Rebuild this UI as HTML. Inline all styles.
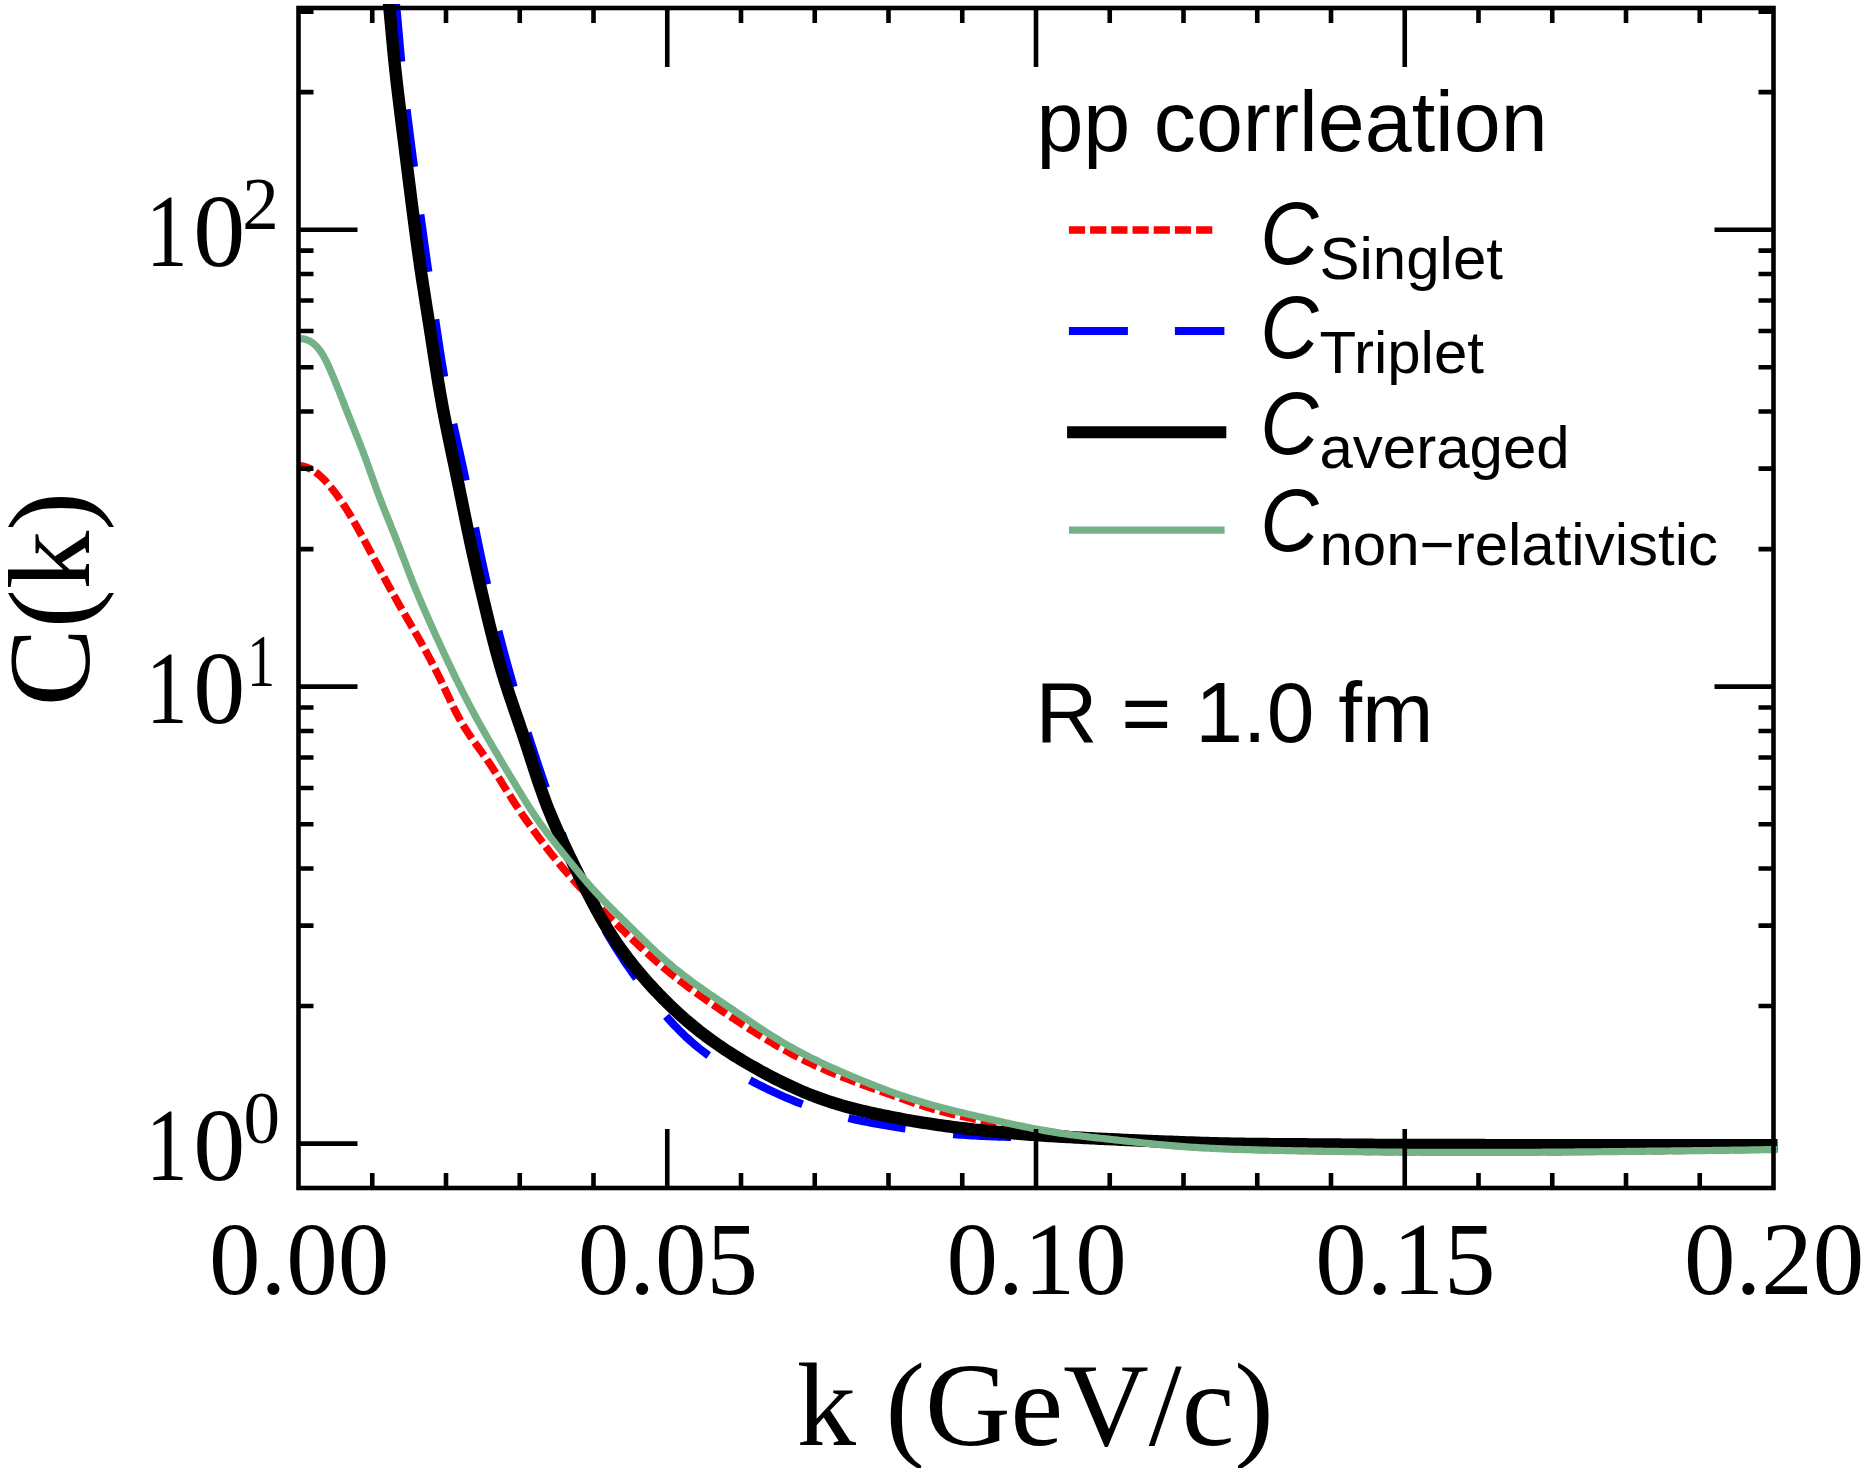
<!DOCTYPE html><html><head><meta charset="utf-8"><style>html,body{margin:0;padding:0;background:#fff;width:1861px;height:1468px;overflow:hidden}svg{display:block}</style></head><body>
<svg width="1861" height="1468" viewBox="0 0 1861 1468">
<rect width="1861" height="1468" fill="#fff"/>
<defs><clipPath id="pc"><rect x="297" y="4" width="1480.5" height="1190"/></clipPath></defs>
<g clip-path="url(#pc)" fill="none" stroke-linejoin="round">
<path d="M394.75,-8.03 L395.09,-5.05 L395.43,-2.07 L395.75,0.90 L396.06,3.88 L396.37,6.86 L396.66,9.85 L396.95,12.83 L397.23,15.81 L397.51,18.80 L397.78,21.78 L398.04,24.77 L398.30,27.75 L398.57,30.74 L398.82,33.72 L399.08,36.71 L399.34,39.70 L399.60,42.68 L399.86,45.67 L400.12,48.65 L400.39,51.64 L400.66,54.62 L400.94,57.61 L401.22,60.59 L401.51,63.58 L401.81,66.56 L402.11,69.54 L402.42,72.52 L402.74,75.50 L403.06,78.48 L403.39,81.46 L403.72,84.44 L404.06,87.42 L404.40,90.39 L404.75,93.37 L405.10,96.35 L405.46,99.32 L405.82,102.30 L406.18,105.28 L406.55,108.25 L406.91,111.23 L407.28,114.20 L407.66,117.18 L408.03,120.15 L408.41,123.12 L408.79,126.10 L409.16,129.07 L409.54,132.04 L409.92,135.02 L410.31,137.99 L410.69,140.96 L411.07,143.94 L411.45,146.91 L411.84,149.88 L412.22,152.85 L412.61,155.83 L412.99,158.80 L413.38,161.77 L413.77,164.74 L414.16,167.71 L414.55,170.68 L414.94,173.66 L415.33,176.63 L415.73,179.60 L416.12,182.57 L416.51,185.54 L416.91,188.51 L417.31,191.48 L417.71,194.45 L418.10,197.42 L418.51,200.39 L418.91,203.36 L419.31,206.33 L419.71,209.30 L420.12,212.27 L420.52,215.24 L420.93,218.21 L421.34,221.18 L421.75,224.15 L422.16,227.12 L422.57,230.09 L422.98,233.06 L423.39,236.03 L423.80,239.00 L424.22,241.97 L424.63,244.94 L425.05,247.90 L425.46,250.87 L425.88,253.84 L426.30,256.81 L426.72,259.78 L427.14,262.75 L427.56,265.71 L427.98,268.68 L428.40,271.65 L428.82,274.62 L429.24,277.58 L429.66,280.55 L430.09,283.52 L430.51,286.48 L430.94,289.45 L431.36,292.42 L431.79,295.38 L432.22,298.35 L432.65,301.32 L433.08,304.28 L433.51,307.25 L433.95,310.21 L434.38,313.18 L434.82,316.14 L435.26,319.11 L435.69,322.07 L436.13,325.04 L436.58,328.00 L437.02,330.97 L437.47,333.93 L437.91,336.90 L438.36,339.86 L438.81,342.82 L439.27,345.79 L439.72,348.75 L440.18,351.71 L440.65,354.67 L441.11,357.63 L441.59,360.60 L442.06,363.55 L442.54,366.51 L443.03,369.47 L443.52,372.43 L444.02,375.38 L444.52,378.34 L445.03,381.29 L445.55,384.24 L446.08,387.19 L446.61,390.14 L447.15,393.09 L447.70,396.04 L448.26,398.98 L448.82,401.92 L449.40,404.86 L449.99,407.80 L450.58,410.74 L451.19,413.67 L451.80,416.61 L452.42,419.54 L453.04,422.47 L453.68,425.40 L454.31,428.33 L454.95,431.25 L455.60,434.18 L456.25,437.11 L456.90,440.03 L457.55,442.96 L458.20,445.88 L458.86,448.81 L459.51,451.73 L460.16,454.66 L460.81,457.59 L461.46,460.51 L462.10,463.44 L462.74,466.37 L463.38,469.30 L464.01,472.23 L464.63,475.16 L465.25,478.09 L465.86,481.03 L466.46,483.96 L467.07,486.90 L467.66,489.84 L468.25,492.78 L468.84,495.72 L469.43,498.66 L470.01,501.60 L470.59,504.54 L471.17,507.48 L471.75,510.42 L472.33,513.36 L472.91,516.30 L473.49,519.24 L474.07,522.18 L474.65,525.13 L475.23,528.07 L475.82,531.01 L476.41,533.94 L477.00,536.88 L477.59,539.82 L478.19,542.76 L478.80,545.69 L479.41,548.63 L480.02,551.56 L480.64,554.49 L481.26,557.42 L481.89,560.35 L482.52,563.28 L483.16,566.21 L483.80,569.14 L484.44,572.06 L485.09,574.99 L485.75,577.91 L486.41,580.84 L487.07,583.76 L487.74,586.68 L488.42,589.60 L489.09,592.52 L489.78,595.44 L490.46,598.36 L491.16,601.27 L491.85,604.19 L492.55,607.10 L493.26,610.01 L493.97,612.93 L494.69,615.84 L495.41,618.75 L496.13,621.66 L496.86,624.57 L497.59,627.47 L498.33,630.38 L499.07,633.28 L499.82,636.19 L500.57,639.09 L501.33,641.99 L502.09,644.89 L502.86,647.79 L503.63,650.69 L504.41,653.58 L505.19,656.48 L505.98,659.37 L506.77,662.26 L507.56,665.15 L508.36,668.04 L509.17,670.93 L509.98,673.81 L510.79,676.70 L511.61,679.58 L512.44,682.46 L513.27,685.34 L514.10,688.22 L514.94,691.09 L515.79,693.97 L516.63,696.84 L517.49,699.71 L518.35,702.58 L519.21,705.45 L520.08,708.32 L520.95,711.18 L521.82,714.05 L522.70,716.91 L523.59,719.77 L524.48,722.64 L525.37,725.50 L526.27,728.35 L527.17,731.21 L528.08,734.07 L528.99,736.92 L529.90,739.78 L530.82,742.63 L531.75,745.49 L532.67,748.34 L533.60,751.19 L534.54,754.04 L535.48,756.88 L536.42,759.73 L537.36,762.58 L538.31,765.42 L539.27,768.27 L540.22,771.11 L541.18,773.95 L542.14,776.80 L543.11,779.64 L544.07,782.47 L545.04,785.31 L546.01,788.15 L546.99,790.99 L547.97,793.82 L548.94,796.65 L549.93,799.49 L550.91,802.32 L551.89,805.15 L552.88,807.98 L553.87,810.81 L554.86,813.63 L555.85,816.46 L556.85,819.28 L557.85,822.11 L558.85,824.93 L559.86,827.75 L560.87,830.56 L561.89,833.38 L562.91,836.19 L563.94,839.00 L564.98,841.80 L566.03,844.61 L567.08,847.41 L568.14,850.21 L569.22,853.00 L570.30,855.79 L571.39,858.58 L572.50,861.36 L573.62,864.14 L574.74,866.92 L575.88,869.69 L577.04,872.46 L578.21,875.22 L579.39,877.97 L580.59,880.73 L581.80,883.47 L583.02,886.22 L584.27,888.95 L585.52,891.68 L586.79,894.40 L588.07,897.12 L589.37,899.83 L590.69,902.53 L592.02,905.23 L593.36,907.92 L594.72,910.60 L596.09,913.27 L597.48,915.93 L598.88,918.58 L600.30,921.23 L601.74,923.86 L603.18,926.49 L604.65,929.10 L606.13,931.71 L607.62,934.31 L609.13,936.89 L610.66,939.46 L612.20,942.03 L613.76,944.58 L615.33,947.12 L616.91,949.65 L618.51,952.17 L620.13,954.69 L621.76,957.19 L623.40,959.68 L625.06,962.17 L626.74,964.64 L628.42,967.11 L630.12,969.56 L631.83,972.01 L633.56,974.46 L635.30,976.89 L637.05,979.31 L638.82,981.73 L640.60,984.14 L642.39,986.55 L644.20,988.95 L646.01,991.34 L647.84,993.72 L649.68,996.10 L651.53,998.47 L653.40,1000.83 L655.28,1003.19 L657.17,1005.53 L659.08,1007.86 L661.01,1010.18 L662.95,1012.48 L664.91,1014.77 L666.89,1017.04 L668.88,1019.29 L670.90,1021.53 L672.93,1023.74 L674.98,1025.93 L677.06,1028.10 L679.16,1030.24 L681.28,1032.36 L683.42,1034.45 L685.58,1036.52 L687.78,1038.55 L689.99,1040.56 L692.23,1042.53 L694.50,1044.47 L696.79,1046.38 L699.11,1048.25 L701.46,1050.09 L703.83,1051.90 L706.23,1053.67 L708.65,1055.42 L711.09,1057.14 L713.55,1058.83 L716.03,1060.49 L718.54,1062.12 L721.06,1063.73 L723.59,1065.32 L726.15,1066.88 L728.72,1068.42 L731.30,1069.94 L733.90,1071.44 L736.51,1072.92 L739.14,1074.39 L741.77,1075.83 L744.41,1077.26 L747.07,1078.68 L749.73,1080.08 L752.40,1081.47 L755.07,1082.84 L757.75,1084.20 L760.44,1085.56 L763.13,1086.90 L765.83,1088.22 L768.53,1089.53 L771.24,1090.83 L773.96,1092.11 L776.68,1093.37 L779.41,1094.62 L782.15,1095.84 L784.89,1097.05 L787.64,1098.24 L790.40,1099.41 L793.17,1100.56 L795.94,1101.69 L798.72,1102.80 L801.51,1103.88 L804.31,1104.94 L807.12,1105.98 L809.93,1106.99 L812.76,1107.97 L815.59,1108.93 L818.43,1109.86 L821.28,1110.77 L824.14,1111.65 L827.00,1112.50 L829.88,1113.32 L832.76,1114.13 L835.65,1114.90 L838.54,1115.66 L841.45,1116.39 L844.35,1117.11 L847.27,1117.80 L850.19,1118.47 L853.11,1119.13 L856.04,1119.77 L858.98,1120.39 L861.92,1120.99 L864.86,1121.58 L867.80,1122.16 L870.75,1122.72 L873.70,1123.27 L876.66,1123.80 L879.61,1124.33 L882.57,1124.85 L885.53,1125.35 L888.49,1125.85 L891.45,1126.34 L894.41,1126.82 L897.37,1127.29 L900.34,1127.75 L903.30,1128.21 L906.27,1128.65 L909.23,1129.08 L912.20,1129.50 L915.17,1129.92 L918.14,1130.32 L921.11,1130.71 L924.08,1131.09 L927.05,1131.45 L930.03,1131.81 L933.00,1132.15 L935.98,1132.49 L938.95,1132.80 L941.93,1133.11 L944.91,1133.40 L947.89,1133.69 L950.88,1133.95 L953.86,1134.21 L956.85,1134.45 L959.83,1134.67 L962.82,1134.88 L965.81,1135.09 L968.80,1135.27 L971.79,1135.45 L974.78,1135.62 L977.78,1135.78 L980.77,1135.93 L983.76,1136.07 L986.76,1136.20 L989.75,1136.33 L992.75,1136.44 L995.75,1136.56 L998.74,1136.67 L1001.74,1136.77 L1004.74,1136.87 L1007.74,1136.96 L1010.73,1137.06 L1013.73,1137.15 L1016.73,1137.24 L1019.73,1137.32 L1022.73,1137.41 L1025.72,1137.50 L1028.72,1137.59 L1031.72,1137.68 L1034.71,1137.77 L1037.71,1137.86 L1040.70,1137.96 L1043.70,1138.05 L1046.70,1138.14 L1049.69,1138.24 L1052.69,1138.33 L1055.68,1138.43 L1058.68,1138.52 L1061.67,1138.62 L1064.67,1138.72 L1067.66,1138.81 L1070.66,1138.91 L1073.65,1139.01 L1076.65,1139.11 L1079.64,1139.20 L1082.63,1139.30 L1085.63,1139.40 L1088.62,1139.50 L1091.62,1139.60 L1094.62,1139.69 L1097.61,1139.79 L1100.61,1139.89 L1103.60,1139.99 L1106.60,1140.09 L1109.59,1140.18 L1112.59,1140.28 L1115.58,1140.38 L1118.58,1140.48 L1121.58,1140.57 L1124.57,1140.67 L1127.57,1140.76 L1130.57,1140.86 L1133.56,1140.95 L1136.56,1141.05 L1139.55,1141.14 L1142.55,1141.24 L1145.55,1141.33 L1148.54,1141.42 L1151.54,1141.51 L1154.54,1141.60 L1157.53,1141.69 L1160.53,1141.78 L1163.53,1141.87 L1166.52,1141.95 L1169.52,1142.04 L1172.51,1142.13 L1175.51,1142.21 L1178.51,1142.29 L1181.50,1142.37 L1184.50,1142.45 L1187.49,1142.53 L1190.49,1142.61 L1193.49,1142.69 L1196.48,1142.76 L1199.48,1142.83 L1202.47,1142.90 L1205.47,1142.97 L1208.47,1143.04 L1211.46,1143.11 L1214.46,1143.17 L1217.46,1143.23 L1220.45,1143.29 L1223.45,1143.35 L1226.45,1143.41 L1229.44,1143.46 L1232.44,1143.51 L1235.44,1143.56 L1238.43,1143.61 L1241.43,1143.65 L1244.43,1143.69 L1247.42,1143.73 L1250.42,1143.77 L1253.42,1143.81 L1256.41,1143.84 L1259.41,1143.88 L1262.41,1143.91 L1265.41,1143.94 L1268.40,1143.97 L1271.40,1144.00 L1274.40,1144.03 L1277.40,1144.05 L1280.39,1144.08 L1283.39,1144.11 L1286.39,1144.13 L1289.39,1144.16 L1292.38,1144.18 L1295.38,1144.21 L1298.38,1144.23 L1301.38,1144.26 L1304.37,1144.28 L1307.37,1144.31 L1310.37,1144.33 L1313.36,1144.36 L1316.36,1144.38 L1319.36,1144.41 L1322.36,1144.43 L1325.35,1144.46 L1328.35,1144.49 L1331.35,1144.51 L1334.34,1144.54 L1337.34,1144.56 L1340.34,1144.58 L1343.34,1144.61 L1346.33,1144.63 L1349.33,1144.65 L1352.33,1144.68 L1355.32,1144.70 L1358.32,1144.72 L1361.32,1144.74 L1364.32,1144.76 L1367.31,1144.78 L1370.31,1144.79 L1373.31,1144.81 L1376.30,1144.82 L1379.30,1144.84 L1382.30,1144.85 L1385.30,1144.86 L1388.29,1144.88 L1391.29,1144.89 L1394.29,1144.90 L1397.29,1144.90 L1400.28,1144.91 L1403.28,1144.92 L1406.28,1144.93 L1409.27,1144.94 L1412.27,1144.94 L1415.27,1144.95 L1418.27,1144.95 L1421.26,1144.96 L1424.26,1144.97 L1427.26,1144.97 L1430.26,1144.98 L1433.25,1144.98 L1436.25,1144.99 L1439.25,1144.99 L1442.25,1145.00 L1445.24,1145.00 L1448.24,1145.01 L1451.24,1145.01 L1454.23,1145.02 L1457.23,1145.02 L1460.23,1145.03 L1463.23,1145.04 L1466.22,1145.04 L1469.22,1145.05 L1472.22,1145.05 L1475.22,1145.06 L1478.21,1145.06 L1481.21,1145.07 L1484.21,1145.08 L1487.20,1145.08 L1490.20,1145.09 L1493.20,1145.09 L1496.20,1145.10 L1499.19,1145.10 L1502.19,1145.11 L1505.19,1145.11 L1508.19,1145.12 L1511.18,1145.12 L1514.18,1145.13 L1517.18,1145.13 L1520.18,1145.13 L1523.17,1145.14 L1526.17,1145.14 L1529.17,1145.14 L1532.16,1145.15 L1535.16,1145.15 L1538.16,1145.15 L1541.16,1145.16 L1544.15,1145.16 L1547.15,1145.16 L1550.15,1145.16 L1553.15,1145.17 L1556.14,1145.17 L1559.14,1145.17 L1562.14,1145.17 L1565.13,1145.17 L1568.13,1145.18 L1571.13,1145.18 L1574.13,1145.18 L1577.12,1145.18 L1580.12,1145.18 L1583.12,1145.18 L1586.12,1145.18 L1589.11,1145.18 L1592.11,1145.19 L1595.11,1145.19 L1598.11,1145.19 L1601.10,1145.19 L1604.10,1145.19 L1607.10,1145.19 L1610.09,1145.19 L1613.09,1145.19 L1616.09,1145.19 L1619.09,1145.19 L1622.08,1145.19 L1625.08,1145.20 L1628.08,1145.20 L1631.08,1145.20 L1634.07,1145.20 L1637.07,1145.20 L1640.07,1145.20 L1643.06,1145.20 L1646.06,1145.20 L1649.06,1145.20 L1652.06,1145.20 L1655.05,1145.20 L1658.05,1145.20 L1661.05,1145.20 L1664.05,1145.20 L1667.04,1145.20 L1670.04,1145.20 L1673.04,1145.20 L1676.04,1145.20 L1679.03,1145.20 L1682.03,1145.20 L1685.03,1145.20 L1688.02,1145.20 L1691.02,1145.21 L1694.02,1145.21 L1697.02,1145.21 L1700.01,1145.21 L1703.01,1145.21 L1706.01,1145.21 L1709.01,1145.21 L1712.00,1145.21 L1715.00,1145.21 L1718.00,1145.21 L1720.99,1145.20 L1723.99,1145.20 L1726.99,1145.20 L1729.99,1145.20 L1732.98,1145.20 L1735.98,1145.20 L1738.98,1145.20 L1741.98,1145.20 L1744.97,1145.20 L1747.97,1145.20 L1750.97,1145.20 L1753.97,1145.20 L1756.96,1145.20 L1759.96,1145.20 L1762.96,1145.20 L1765.95,1145.20 L1768.95,1145.20 L1771.95,1145.20 L1774.95,1145.20 L1777.94,1145.20 L1780.94,1145.20 L1783.94,1145.20 L1786.94,1145.20 L1789.93,1145.20" stroke="#0000ff" stroke-width="8" stroke-dasharray="58 48" stroke-dashoffset="94"/>
<path d="M263.01,493.32 L263.94,491.11 L265.16,488.82 L266.63,486.48 L268.35,484.12 L270.28,481.77 L272.40,479.47 L274.68,477.24 L277.11,475.12 L279.66,473.13 L282.31,471.32 L285.03,469.71 L287.80,468.34 L290.60,467.23 L293.40,466.43 L296.18,465.95 L298.92,465.82 L301.62,466.03 L304.27,466.56 L306.87,467.38 L309.42,468.46 L311.93,469.78 L314.38,471.33 L316.78,473.06 L319.12,474.97 L321.41,477.03 L323.65,479.20 L325.82,481.48 L327.93,483.83 L329.99,486.23 L331.98,488.65 L333.90,491.09 L335.77,493.53 L337.58,495.97 L339.34,498.42 L341.05,500.87 L342.72,503.33 L344.35,505.80 L345.94,508.28 L347.50,510.77 L349.03,513.27 L350.54,515.79 L352.03,518.32 L353.50,520.86 L354.96,523.42 L356.41,525.99 L357.86,528.58 L359.30,531.19 L360.75,533.81 L362.18,536.44 L363.62,539.08 L365.05,541.74 L366.48,544.40 L367.91,547.06 L369.33,549.73 L370.76,552.41 L372.18,555.08 L373.60,557.75 L375.01,560.42 L376.43,563.09 L377.84,565.75 L379.26,568.40 L380.67,571.05 L382.09,573.69 L383.50,576.33 L384.92,578.95 L386.34,581.58 L387.76,584.20 L389.19,586.81 L390.62,589.42 L392.06,592.03 L393.51,594.64 L394.96,597.24 L396.42,599.84 L397.88,602.44 L399.36,605.03 L400.84,607.63 L402.34,610.23 L403.84,612.82 L405.34,615.42 L406.85,618.01 L408.37,620.61 L409.88,623.21 L411.39,625.81 L412.91,628.41 L414.41,631.01 L415.92,633.61 L417.42,636.22 L418.91,638.83 L420.39,641.44 L421.86,644.05 L423.32,646.67 L424.77,649.30 L426.20,651.92 L427.63,654.56 L429.04,657.19 L430.44,659.83 L431.83,662.48 L433.20,665.13 L434.57,667.79 L435.92,670.46 L437.26,673.13 L438.59,675.82 L439.90,678.50 L441.21,681.20 L442.50,683.90 L443.78,686.62 L445.05,689.34 L446.32,692.06 L447.59,694.79 L448.86,697.51 L450.13,700.23 L451.42,702.94 L452.72,705.65 L454.05,708.35 L455.39,711.03 L456.76,713.70 L458.15,716.35 L459.59,718.98 L461.06,721.59 L462.57,724.17 L464.12,726.72 L465.71,729.26 L467.34,731.76 L469.00,734.26 L470.69,736.73 L472.40,739.19 L474.13,741.64 L475.87,744.09 L477.61,746.52 L479.36,748.96 L481.11,751.40 L482.86,753.84 L484.59,756.28 L486.31,758.74 L488.01,761.21 L489.69,763.69 L491.35,766.18 L492.99,768.69 L494.61,771.21 L496.22,773.73 L497.81,776.26 L499.40,778.80 L500.98,781.34 L502.56,783.89 L504.14,786.43 L505.72,788.97 L507.30,791.51 L508.89,794.05 L510.49,796.58 L512.10,799.10 L513.72,801.62 L515.36,804.12 L517.01,806.62 L518.67,809.11 L520.35,811.59 L522.03,814.06 L523.73,816.53 L525.44,818.99 L527.17,821.44 L528.90,823.88 L530.64,826.32 L532.39,828.75 L534.15,831.18 L535.92,833.60 L537.70,836.01 L539.48,838.42 L541.27,840.83 L543.08,843.22 L544.89,845.61 L546.71,847.99 L548.54,850.37 L550.39,852.73 L552.24,855.09 L554.11,857.43 L555.99,859.77 L557.89,862.09 L559.79,864.40 L561.72,866.70 L563.65,868.99 L565.60,871.26 L567.57,873.52 L569.56,875.76 L571.55,877.99 L573.56,880.21 L575.59,882.42 L577.62,884.62 L579.67,886.81 L581.73,888.98 L583.80,891.15 L585.87,893.31 L587.95,895.47 L590.04,897.62 L592.14,899.76 L594.24,901.89 L596.35,904.03 L598.46,906.15 L600.57,908.28 L602.69,910.40 L604.81,912.51 L606.94,914.63 L609.07,916.74 L611.20,918.84 L613.34,920.94 L615.48,923.04 L617.62,925.13 L619.77,927.23 L621.92,929.31 L624.07,931.40 L626.23,933.48 L628.39,935.56 L630.55,937.63 L632.72,939.70 L634.89,941.77 L637.07,943.82 L639.25,945.88 L641.44,947.92 L643.64,949.96 L645.84,951.99 L648.06,954.01 L650.28,956.02 L652.51,958.02 L654.75,960.00 L657.01,961.98 L659.27,963.94 L661.55,965.88 L663.84,967.82 L666.15,969.73 L668.46,971.63 L670.79,973.52 L673.13,975.40 L675.47,977.26 L677.83,979.10 L680.20,980.94 L682.58,982.76 L684.97,984.58 L687.37,986.38 L689.77,988.17 L692.19,989.94 L694.61,991.71 L697.04,993.47 L699.47,995.22 L701.91,996.96 L704.36,998.69 L706.81,1000.41 L709.27,1002.12 L711.73,1003.83 L714.20,1005.53 L716.67,1007.22 L719.15,1008.90 L721.63,1010.58 L724.12,1012.25 L726.61,1013.92 L729.10,1015.58 L731.60,1017.24 L734.10,1018.89 L736.60,1020.54 L739.11,1022.18 L741.62,1023.82 L744.13,1025.45 L746.65,1027.07 L749.17,1028.69 L751.70,1030.30 L754.23,1031.91 L756.77,1033.50 L759.31,1035.09 L761.86,1036.66 L764.42,1038.22 L766.98,1039.78 L769.55,1041.32 L772.13,1042.84 L774.72,1044.36 L777.31,1045.86 L779.91,1047.35 L782.52,1048.82 L785.14,1050.28 L787.77,1051.72 L790.40,1053.15 L793.05,1054.56 L795.70,1055.95 L798.36,1057.33 L801.03,1058.68 L803.72,1060.02 L806.40,1061.34 L809.10,1062.65 L811.81,1063.93 L814.53,1065.19 L817.26,1066.43 L819.99,1067.65 L822.73,1068.86 L825.49,1070.04 L828.24,1071.22 L831.01,1072.37 L833.78,1073.51 L836.56,1074.64 L839.34,1075.76 L842.13,1076.86 L844.92,1077.95 L847.72,1079.03 L850.52,1080.11 L853.32,1081.17 L856.12,1082.23 L858.93,1083.28 L861.74,1084.32 L864.55,1085.35 L867.36,1086.39 L870.18,1087.41 L872.99,1088.43 L875.81,1089.45 L878.63,1090.46 L881.45,1091.47 L884.28,1092.47 L887.10,1093.47 L889.92,1094.48 L892.75,1095.47 L895.57,1096.47 L898.40,1097.47 L901.23,1098.46 L904.06,1099.46 L906.89,1100.44 L909.72,1101.42 L912.56,1102.39 L915.40,1103.35 L918.24,1104.30 L921.09,1105.23 L923.94,1106.15 L926.80,1107.05 L929.66,1107.94 L932.53,1108.80 L935.41,1109.64 L938.29,1110.46 L941.17,1111.25 L944.07,1112.02 L946.97,1112.77 L949.88,1113.50 L952.79,1114.20 L955.71,1114.89 L958.63,1115.56 L961.55,1116.21 L964.48,1116.85 L967.41,1117.47 L970.35,1118.09 L973.29,1118.68 L976.23,1119.27 L979.17,1119.85 L982.11,1120.43 L985.06,1120.99 L988.00,1121.55 L990.95,1122.10 L993.89,1122.65 L996.84,1123.19 L999.79,1123.72 L1002.74,1124.25 L1005.69,1124.77 L1008.64,1125.29 L1011.59,1125.80 L1014.54,1126.31 L1017.50,1126.81 L1020.45,1127.31 L1023.41,1127.80 L1026.36,1128.29 L1029.32,1128.77 L1032.28,1129.25 L1035.24,1129.73 L1038.20,1130.20 L1041.16,1130.66 L1044.12,1131.12 L1047.08,1131.57 L1050.05,1132.02 L1053.01,1132.45 L1055.98,1132.88 L1058.95,1133.30 L1061.92,1133.71 L1064.89,1134.11 L1067.86,1134.50 L1070.83,1134.88 L1073.80,1135.25 L1076.78,1135.61 L1079.75,1135.95 L1082.73,1136.30 L1085.71,1136.63 L1088.69,1136.96 L1091.67,1137.28 L1094.65,1137.59 L1097.63,1137.91 L1100.61,1138.21 L1103.59,1138.52 L1106.57,1138.82 L1109.55,1139.13 L1112.53,1139.43 L1115.51,1139.74 L1118.49,1140.04 L1121.48,1140.35 L1124.46,1140.66 L1127.44,1140.97 L1130.42,1141.28 L1133.40,1141.59 L1136.38,1141.89 L1139.36,1142.20 L1142.34,1142.50 L1145.33,1142.79 L1148.31,1143.09 L1151.29,1143.38 L1154.27,1143.66 L1157.26,1143.94 L1160.24,1144.22 L1163.23,1144.48 L1166.21,1144.74 L1169.20,1145.00 L1172.18,1145.25 L1175.17,1145.49 L1178.16,1145.72 L1181.15,1145.94 L1184.14,1146.16 L1187.13,1146.37 L1190.12,1146.58 L1193.11,1146.77 L1196.10,1146.96 L1199.09,1147.14 L1202.08,1147.32 L1205.07,1147.48 L1208.06,1147.64 L1211.06,1147.79 L1214.05,1147.93 L1217.04,1148.07 L1220.04,1148.20 L1223.03,1148.32 L1226.03,1148.44 L1229.02,1148.55 L1232.02,1148.65 L1235.01,1148.76 L1238.01,1148.85 L1241.00,1148.95 L1244.00,1149.04 L1246.99,1149.12 L1249.99,1149.21 L1252.98,1149.29 L1255.98,1149.37 L1258.98,1149.45 L1261.97,1149.52 L1264.97,1149.59 L1267.96,1149.67 L1270.96,1149.73 L1273.96,1149.80 L1276.95,1149.87 L1279.95,1149.93 L1282.94,1149.99 L1285.94,1150.05 L1288.94,1150.11 L1291.93,1150.17 L1294.93,1150.23 L1297.92,1150.29 L1300.92,1150.34 L1303.92,1150.39 L1306.91,1150.45 L1309.91,1150.50 L1312.90,1150.55 L1315.90,1150.60 L1318.90,1150.65 L1321.89,1150.70 L1324.89,1150.75 L1327.89,1150.80 L1330.88,1150.84 L1333.88,1150.89 L1336.88,1150.94 L1339.87,1150.98 L1342.87,1151.03 L1345.87,1151.07 L1348.86,1151.11 L1351.86,1151.15 L1354.85,1151.20 L1357.85,1151.24 L1360.85,1151.28 L1363.84,1151.32 L1366.84,1151.35 L1369.84,1151.39 L1372.83,1151.42 L1375.83,1151.46 L1378.83,1151.49 L1381.82,1151.52 L1384.82,1151.55 L1387.82,1151.58 L1390.81,1151.60 L1393.81,1151.63 L1396.81,1151.65 L1399.80,1151.67 L1402.80,1151.69 L1405.80,1151.71 L1408.79,1151.73 L1411.79,1151.75 L1414.79,1151.76 L1417.78,1151.78 L1420.78,1151.79 L1423.78,1151.80 L1426.77,1151.81 L1429.77,1151.83 L1432.77,1151.84 L1435.76,1151.85 L1438.76,1151.85 L1441.76,1151.86 L1444.75,1151.87 L1447.75,1151.88 L1450.75,1151.89 L1453.74,1151.89 L1456.74,1151.90 L1459.74,1151.90 L1462.73,1151.90 L1465.73,1151.91 L1468.73,1151.91 L1471.72,1151.91 L1474.72,1151.91 L1477.72,1151.92 L1480.71,1151.92 L1483.71,1151.92 L1486.71,1151.91 L1489.71,1151.91 L1492.70,1151.91 L1495.70,1151.91 L1498.70,1151.90 L1501.69,1151.90 L1504.69,1151.89 L1507.69,1151.88 L1510.68,1151.88 L1513.68,1151.87 L1516.68,1151.86 L1519.67,1151.85 L1522.67,1151.83 L1525.67,1151.82 L1528.66,1151.81 L1531.66,1151.79 L1534.66,1151.78 L1537.65,1151.76 L1540.65,1151.74 L1543.65,1151.72 L1546.64,1151.70 L1549.64,1151.68 L1552.64,1151.66 L1555.63,1151.64 L1558.63,1151.61 L1561.63,1151.59 L1564.62,1151.56 L1567.62,1151.54 L1570.62,1151.51 L1573.61,1151.49 L1576.61,1151.46 L1579.61,1151.43 L1582.60,1151.40 L1585.60,1151.37 L1588.60,1151.34 L1591.59,1151.31 L1594.59,1151.28 L1597.59,1151.25 L1600.58,1151.22 L1603.58,1151.19 L1606.58,1151.16 L1609.57,1151.13 L1612.57,1151.10 L1615.57,1151.07 L1618.56,1151.04 L1621.56,1151.00 L1624.55,1150.97 L1627.55,1150.94 L1630.55,1150.91 L1633.54,1150.88 L1636.54,1150.85 L1639.54,1150.81 L1642.53,1150.78 L1645.53,1150.75 L1648.53,1150.72 L1651.52,1150.68 L1654.52,1150.65 L1657.52,1150.62 L1660.51,1150.59 L1663.51,1150.55 L1666.51,1150.52 L1669.50,1150.48 L1672.50,1150.45 L1675.50,1150.42 L1678.49,1150.38 L1681.49,1150.35 L1684.49,1150.31 L1687.48,1150.27 L1690.48,1150.24 L1693.48,1150.20 L1696.47,1150.16 L1699.47,1150.13 L1702.47,1150.09 L1705.46,1150.05 L1708.46,1150.01 L1711.45,1149.97 L1714.45,1149.93 L1717.45,1149.89 L1720.44,1149.85 L1723.44,1149.81 L1726.44,1149.77 L1729.43,1149.73 L1732.43,1149.69 L1735.43,1149.65 L1738.42,1149.61 L1741.42,1149.57 L1744.42,1149.52 L1747.41,1149.48 L1750.41,1149.44 L1753.41,1149.40 L1756.40,1149.35 L1759.40,1149.31 L1762.39,1149.26 L1765.39,1149.22 L1768.39,1149.17 L1771.38,1149.12 L1774.38,1149.07 L1777.38,1149.02 L1780.37,1148.97 L1783.37,1148.92 L1786.37,1148.86 L1789.36,1148.80" stroke="#ff0000" stroke-width="7.6" stroke-dasharray="16 5" stroke-dashoffset="18.5"/>
<path d="M387.85,-8.04 L388.15,-5.06 L388.45,-2.08 L388.75,0.91 L389.04,3.89 L389.33,6.88 L389.61,9.86 L389.89,12.85 L390.17,15.83 L390.44,18.82 L390.72,21.80 L390.99,24.79 L391.26,27.77 L391.54,30.76 L391.81,33.74 L392.09,36.73 L392.36,39.72 L392.64,42.70 L392.92,45.69 L393.20,48.67 L393.49,51.65 L393.78,54.64 L394.08,57.62 L394.38,60.60 L394.69,63.59 L395.00,66.57 L395.32,69.55 L395.64,72.53 L395.97,75.51 L396.30,78.49 L396.64,81.47 L396.98,84.45 L397.33,87.43 L397.67,90.41 L398.03,93.38 L398.38,96.36 L398.74,99.34 L399.10,102.32 L399.46,105.29 L399.82,108.27 L400.19,111.25 L400.56,114.22 L400.93,117.20 L401.30,120.18 L401.67,123.15 L402.04,126.13 L402.41,129.10 L402.78,132.08 L403.15,135.05 L403.52,138.03 L403.90,141.00 L404.27,143.98 L404.64,146.95 L405.01,149.93 L405.38,152.91 L405.76,155.88 L406.13,158.86 L406.50,161.83 L406.87,164.81 L407.25,167.78 L407.62,170.75 L408.00,173.73 L408.37,176.70 L408.75,179.68 L409.12,182.65 L409.50,185.63 L409.87,188.60 L410.25,191.58 L410.62,194.55 L411.00,197.53 L411.38,200.50 L411.76,203.48 L412.14,206.45 L412.52,209.43 L412.90,212.40 L413.28,215.38 L413.67,218.35 L414.05,221.32 L414.44,224.30 L414.83,227.27 L415.22,230.24 L415.62,233.22 L416.01,236.19 L416.41,239.16 L416.81,242.13 L417.22,245.10 L417.63,248.08 L418.04,251.05 L418.45,254.02 L418.87,256.98 L419.29,259.95 L419.72,262.92 L420.15,265.89 L420.58,268.86 L421.02,271.82 L421.46,274.79 L421.91,277.75 L422.36,280.72 L422.81,283.68 L423.27,286.64 L423.73,289.61 L424.19,292.57 L424.65,295.53 L425.11,298.49 L425.58,301.46 L426.05,304.42 L426.51,307.38 L426.98,310.34 L427.45,313.30 L427.92,316.26 L428.39,319.23 L428.86,322.19 L429.32,325.15 L429.79,328.11 L430.25,331.08 L430.72,334.04 L431.18,337.00 L431.64,339.97 L432.10,342.93 L432.55,345.89 L433.01,348.86 L433.47,351.82 L433.92,354.79 L434.38,357.75 L434.84,360.71 L435.30,363.68 L435.77,366.64 L436.24,369.60 L436.71,372.56 L437.18,375.53 L437.66,378.49 L438.14,381.45 L438.63,384.40 L439.12,387.36 L439.63,390.32 L440.13,393.27 L440.65,396.23 L441.17,399.18 L441.70,402.13 L442.24,405.08 L442.78,408.03 L443.34,410.97 L443.90,413.92 L444.47,416.86 L445.05,419.80 L445.63,422.74 L446.22,425.68 L446.82,428.62 L447.42,431.56 L448.02,434.50 L448.63,437.43 L449.24,440.37 L449.85,443.31 L450.47,446.24 L451.08,449.18 L451.70,452.11 L452.32,455.05 L452.94,457.98 L453.56,460.91 L454.17,463.85 L454.79,466.78 L455.40,469.72 L456.02,472.66 L456.62,475.59 L457.23,478.53 L457.83,481.47 L458.44,484.40 L459.04,487.34 L459.64,490.28 L460.23,493.22 L460.83,496.16 L461.43,499.10 L462.03,502.03 L462.62,504.97 L463.22,507.91 L463.82,510.85 L464.42,513.79 L465.02,516.72 L465.63,519.66 L466.23,522.60 L466.84,525.53 L467.45,528.47 L468.07,531.40 L468.69,534.34 L469.31,537.27 L469.93,540.20 L470.56,543.13 L471.20,546.06 L471.84,548.99 L472.48,551.92 L473.12,554.85 L473.77,557.77 L474.43,560.70 L475.09,563.62 L475.75,566.55 L476.41,569.47 L477.08,572.40 L477.75,575.32 L478.42,578.24 L479.10,581.16 L479.78,584.08 L480.46,587.00 L481.14,589.92 L481.83,592.84 L482.52,595.76 L483.21,598.68 L483.90,601.60 L484.60,604.51 L485.29,607.43 L485.99,610.35 L486.69,613.26 L487.39,616.18 L488.10,619.09 L488.81,622.01 L489.52,624.92 L490.24,627.83 L490.96,630.74 L491.69,633.65 L492.42,636.56 L493.17,639.46 L493.91,642.36 L494.67,645.26 L495.44,648.16 L496.21,651.06 L496.99,653.95 L497.79,656.84 L498.59,659.73 L499.41,662.61 L500.23,665.49 L501.07,668.37 L501.92,671.24 L502.78,674.11 L503.66,676.97 L504.55,679.83 L505.45,682.69 L506.37,685.54 L507.29,688.39 L508.22,691.24 L509.16,694.09 L510.11,696.93 L511.07,699.77 L512.03,702.61 L512.99,705.45 L513.96,708.29 L514.93,711.13 L515.91,713.96 L516.88,716.80 L517.86,719.64 L518.83,722.47 L519.81,725.31 L520.78,728.15 L521.74,730.99 L522.71,733.83 L523.66,736.68 L524.61,739.53 L525.56,742.37 L526.49,745.23 L527.43,748.08 L528.35,750.94 L529.28,753.79 L530.20,756.65 L531.12,759.51 L532.04,762.36 L532.96,765.22 L533.89,768.07 L534.82,770.93 L535.75,773.78 L536.69,776.62 L537.64,779.47 L538.60,782.31 L539.56,785.15 L540.54,787.98 L541.53,790.81 L542.54,793.63 L543.55,796.45 L544.59,799.26 L545.64,802.06 L546.71,804.86 L547.79,807.65 L548.90,810.43 L550.03,813.20 L551.17,815.97 L552.33,818.73 L553.51,821.48 L554.70,824.23 L555.91,826.97 L557.13,829.70 L558.36,832.44 L559.61,835.16 L560.86,837.89 L562.13,840.60 L563.40,843.32 L564.69,846.03 L565.98,848.74 L567.27,851.45 L568.58,854.15 L569.89,856.85 L571.20,859.56 L572.51,862.26 L573.83,864.96 L575.15,867.66 L576.47,870.35 L577.79,873.05 L579.11,875.75 L580.43,878.45 L581.76,881.15 L583.09,883.84 L584.43,886.53 L585.77,889.21 L587.12,891.90 L588.48,894.57 L589.85,897.24 L591.23,899.91 L592.62,902.57 L594.02,905.22 L595.44,907.86 L596.87,910.49 L598.31,913.11 L599.77,915.73 L601.25,918.33 L602.75,920.92 L604.27,923.50 L605.81,926.07 L607.37,928.63 L608.95,931.17 L610.56,933.69 L612.19,936.20 L613.84,938.70 L615.51,941.19 L617.20,943.66 L618.92,946.11 L620.65,948.55 L622.41,950.98 L624.19,953.40 L625.98,955.80 L627.80,958.18 L629.63,960.55 L631.48,962.91 L633.35,965.26 L635.24,967.59 L637.15,969.91 L639.07,972.21 L641.01,974.50 L642.96,976.78 L644.93,979.04 L646.92,981.29 L648.92,983.53 L650.93,985.75 L652.96,987.96 L655.00,990.16 L657.06,992.34 L659.13,994.51 L661.22,996.66 L663.32,998.80 L665.43,1000.92 L667.57,1003.03 L669.71,1005.12 L671.87,1007.20 L674.04,1009.26 L676.23,1011.30 L678.44,1013.33 L680.66,1015.34 L682.89,1017.34 L685.14,1019.31 L687.41,1021.27 L689.69,1023.21 L691.99,1025.13 L694.30,1027.03 L696.63,1028.92 L698.98,1030.78 L701.34,1032.63 L703.71,1034.45 L706.10,1036.26 L708.51,1038.05 L710.93,1039.82 L713.37,1041.56 L715.82,1043.30 L718.28,1045.01 L720.76,1046.70 L723.25,1048.38 L725.75,1050.04 L728.26,1051.68 L730.78,1053.31 L733.32,1054.92 L735.87,1056.51 L738.42,1058.09 L740.99,1059.65 L743.56,1061.20 L746.15,1062.73 L748.74,1064.25 L751.34,1065.75 L753.95,1067.24 L756.57,1068.71 L759.19,1070.17 L761.82,1071.62 L764.45,1073.05 L767.09,1074.47 L769.74,1075.87 L772.40,1077.26 L775.06,1078.63 L777.74,1079.98 L780.41,1081.32 L783.10,1082.64 L785.79,1083.94 L788.50,1085.22 L791.21,1086.48 L793.93,1087.72 L796.66,1088.95 L799.39,1090.15 L802.14,1091.33 L804.89,1092.48 L807.66,1093.62 L810.43,1094.73 L813.22,1095.82 L816.01,1096.88 L818.82,1097.92 L821.63,1098.94 L824.46,1099.92 L827.29,1100.89 L830.14,1101.82 L832.99,1102.74 L835.85,1103.63 L838.72,1104.50 L841.60,1105.34 L844.49,1106.17 L847.39,1106.97 L850.29,1107.75 L853.19,1108.52 L856.11,1109.26 L859.02,1109.99 L861.95,1110.70 L864.87,1111.40 L867.81,1112.08 L870.74,1112.74 L873.68,1113.39 L876.62,1114.03 L879.56,1114.65 L882.50,1115.26 L885.45,1115.86 L888.40,1116.45 L891.34,1117.03 L894.29,1117.60 L897.24,1118.16 L900.18,1118.71 L903.13,1119.25 L906.08,1119.78 L909.03,1120.30 L911.98,1120.81 L914.93,1121.31 L917.88,1121.80 L920.83,1122.29 L923.79,1122.76 L926.74,1123.23 L929.70,1123.69 L932.65,1124.13 L935.61,1124.57 L938.57,1125.01 L941.53,1125.43 L944.50,1125.85 L947.46,1126.25 L950.43,1126.65 L953.40,1127.04 L956.37,1127.42 L959.34,1127.80 L962.31,1128.17 L965.29,1128.53 L968.27,1128.88 L971.25,1129.22 L974.23,1129.56 L977.21,1129.89 L980.19,1130.21 L983.18,1130.53 L986.17,1130.84 L989.15,1131.14 L992.14,1131.43 L995.13,1131.72 L998.12,1132.01 L1001.11,1132.28 L1004.10,1132.55 L1007.10,1132.82 L1010.09,1133.07 L1013.08,1133.33 L1016.07,1133.57 L1019.07,1133.81 L1022.06,1134.05 L1025.05,1134.28 L1028.04,1134.50 L1031.03,1134.72 L1034.03,1134.93 L1037.02,1135.14 L1040.01,1135.35 L1043.00,1135.55 L1045.99,1135.74 L1048.98,1135.94 L1051.97,1136.12 L1054.96,1136.31 L1057.95,1136.49 L1060.94,1136.66 L1063.93,1136.84 L1066.92,1137.01 L1069.91,1137.17 L1072.91,1137.34 L1075.90,1137.50 L1078.89,1137.66 L1081.88,1137.81 L1084.87,1137.97 L1087.86,1138.12 L1090.86,1138.27 L1093.85,1138.42 L1096.84,1138.57 L1099.84,1138.71 L1102.83,1138.86 L1105.83,1139.00 L1108.82,1139.14 L1111.82,1139.29 L1114.81,1139.43 L1117.81,1139.56 L1120.81,1139.70 L1123.80,1139.84 L1126.80,1139.97 L1129.80,1140.10 L1132.79,1140.23 L1135.79,1140.36 L1138.79,1140.49 L1141.79,1140.62 L1144.79,1140.75 L1147.78,1140.87 L1150.78,1141.00 L1153.78,1141.12 L1156.78,1141.24 L1159.77,1141.36 L1162.77,1141.48 L1165.77,1141.59 L1168.77,1141.71 L1171.76,1141.82 L1174.76,1141.93 L1177.76,1142.05 L1180.75,1142.15 L1183.75,1142.26 L1186.74,1142.37 L1189.74,1142.47 L1192.74,1142.57 L1195.73,1142.67 L1198.73,1142.76 L1201.73,1142.86 L1204.72,1142.95 L1207.72,1143.03 L1210.71,1143.12 L1213.71,1143.20 L1216.71,1143.28 L1219.70,1143.35 L1222.70,1143.42 L1225.70,1143.49 L1228.70,1143.56 L1231.69,1143.62 L1234.69,1143.67 L1237.69,1143.72 L1240.69,1143.77 L1243.68,1143.82 L1246.68,1143.86 L1249.68,1143.90 L1252.68,1143.93 L1255.68,1143.96 L1258.68,1143.99 L1261.68,1144.02 L1264.67,1144.05 L1267.67,1144.07 L1270.67,1144.09 L1273.67,1144.11 L1276.67,1144.13 L1279.67,1144.15 L1282.67,1144.17 L1285.67,1144.19 L1288.67,1144.21 L1291.67,1144.22 L1294.67,1144.24 L1297.67,1144.26 L1300.67,1144.27 L1303.66,1144.29 L1306.66,1144.31 L1309.66,1144.33 L1312.66,1144.36 L1315.66,1144.38 L1318.66,1144.40 L1321.66,1144.42 L1324.65,1144.45 L1327.65,1144.47 L1330.65,1144.50 L1333.65,1144.52 L1336.65,1144.55 L1339.65,1144.57 L1342.64,1144.60 L1345.64,1144.62 L1348.64,1144.64 L1351.64,1144.67 L1354.64,1144.69 L1357.64,1144.71 L1360.63,1144.73 L1363.63,1144.76 L1366.63,1144.77 L1369.63,1144.79 L1372.63,1144.81 L1375.62,1144.83 L1378.62,1144.84 L1381.62,1144.86 L1384.62,1144.87 L1387.62,1144.88 L1390.62,1144.89 L1393.62,1144.90 L1396.62,1144.91 L1399.61,1144.92 L1402.61,1144.93 L1405.61,1144.93 L1408.61,1144.94 L1411.61,1144.95 L1414.61,1144.95 L1417.61,1144.96 L1420.61,1144.96 L1423.60,1144.97 L1426.60,1144.97 L1429.60,1144.97 L1432.60,1144.98 L1435.60,1144.98 L1438.60,1144.99 L1441.60,1144.99 L1444.60,1145.00 L1447.60,1145.00 L1450.59,1145.01 L1453.59,1145.01 L1456.59,1145.02 L1459.59,1145.02 L1462.59,1145.03 L1465.59,1145.04 L1468.59,1145.04 L1471.58,1145.05 L1474.58,1145.05 L1477.58,1145.06 L1480.58,1145.07 L1483.58,1145.07 L1486.58,1145.08 L1489.58,1145.08 L1492.57,1145.09 L1495.57,1145.10 L1498.57,1145.10 L1501.57,1145.11 L1504.57,1145.11 L1507.57,1145.12 L1510.57,1145.12 L1513.56,1145.13 L1516.56,1145.13 L1519.56,1145.14 L1522.56,1145.14 L1525.56,1145.14 L1528.56,1145.15 L1531.56,1145.15 L1534.55,1145.15 L1537.55,1145.15 L1540.55,1145.16 L1543.55,1145.16 L1546.55,1145.16 L1549.55,1145.16 L1552.55,1145.17 L1555.55,1145.17 L1558.54,1145.17 L1561.54,1145.17 L1564.54,1145.17 L1567.54,1145.17 L1570.54,1145.18 L1573.54,1145.18 L1576.54,1145.18 L1579.53,1145.18 L1582.53,1145.18 L1585.53,1145.18 L1588.53,1145.18 L1591.53,1145.18 L1594.53,1145.19 L1597.53,1145.19 L1600.53,1145.19 L1603.52,1145.19 L1606.52,1145.19 L1609.52,1145.19 L1612.52,1145.19 L1615.52,1145.19 L1618.52,1145.19 L1621.52,1145.19 L1624.51,1145.19 L1627.51,1145.20 L1630.51,1145.20 L1633.51,1145.20 L1636.51,1145.20 L1639.51,1145.20 L1642.51,1145.20 L1645.50,1145.20 L1648.50,1145.20 L1651.50,1145.20 L1654.50,1145.20 L1657.50,1145.20 L1660.50,1145.20 L1663.50,1145.20 L1666.50,1145.20 L1669.49,1145.20 L1672.49,1145.20 L1675.49,1145.20 L1678.49,1145.20 L1681.49,1145.20 L1684.49,1145.20 L1687.49,1145.21 L1690.48,1145.21 L1693.48,1145.21 L1696.48,1145.21 L1699.48,1145.21 L1702.48,1145.21 L1705.48,1145.21 L1708.48,1145.21 L1711.48,1145.21 L1714.47,1145.20 L1717.47,1145.20 L1720.47,1145.20 L1723.47,1145.20 L1726.47,1145.20 L1729.47,1145.20 L1732.47,1145.20 L1735.46,1145.20 L1738.46,1145.20 L1741.46,1145.20 L1744.46,1145.20 L1747.46,1145.20 L1750.46,1145.20 L1753.46,1145.20 L1756.45,1145.20 L1759.45,1145.20 L1762.45,1145.20 L1765.45,1145.20 L1768.45,1145.20 L1771.45,1145.20 L1774.45,1145.20 L1777.45,1145.20 L1780.44,1145.20 L1783.44,1145.20 L1786.44,1145.20 L1789.44,1145.20" stroke="#000" stroke-width="12.4" stroke-dashoffset="0"/>
<path d="M271.17,364.27 L271.12,361.16 L271.59,358.18 L272.53,355.36 L273.89,352.69 L275.64,350.20 L277.70,347.91 L280.05,345.84 L282.63,343.99 L285.38,342.38 L288.27,341.04 L291.25,339.98 L294.25,339.21 L297.25,338.75 L300.18,338.61 L303.00,338.82 L305.67,339.38 L308.18,340.28 L310.54,341.49 L312.77,342.98 L314.86,344.73 L316.84,346.72 L318.70,348.90 L320.46,351.27 L322.12,353.80 L323.70,356.44 L325.20,359.20 L326.63,362.02 L328.00,364.90 L329.31,367.80 L330.58,370.70 L331.82,373.57 L333.02,376.41 L334.20,379.23 L335.35,382.02 L336.48,384.79 L337.59,387.54 L338.68,390.29 L339.76,393.01 L340.83,395.74 L341.90,398.45 L342.96,401.17 L344.02,403.88 L345.08,406.60 L346.15,409.33 L347.23,412.06 L348.32,414.81 L349.42,417.58 L350.52,420.35 L351.64,423.14 L352.76,425.93 L353.89,428.74 L355.02,431.55 L356.14,434.36 L357.27,437.19 L358.39,440.01 L359.50,442.84 L360.61,445.67 L361.71,448.51 L362.79,451.34 L363.86,454.17 L364.92,456.99 L365.96,459.81 L366.99,462.63 L368.01,465.45 L369.02,468.26 L370.02,471.08 L371.02,473.89 L372.02,476.69 L373.02,479.50 L374.02,482.30 L375.02,485.10 L376.03,487.90 L377.05,490.70 L378.09,493.49 L379.13,496.29 L380.19,499.08 L381.26,501.87 L382.35,504.66 L383.44,507.46 L384.55,510.25 L385.67,513.04 L386.79,515.83 L387.91,518.62 L389.04,521.41 L390.17,524.20 L391.29,526.99 L392.42,529.78 L393.54,532.57 L394.65,535.36 L395.76,538.16 L396.86,540.95 L397.94,543.75 L399.03,546.55 L400.10,549.34 L401.17,552.14 L402.23,554.94 L403.30,557.74 L404.36,560.53 L405.43,563.33 L406.49,566.13 L407.56,568.92 L408.64,571.71 L409.72,574.50 L410.81,577.29 L411.91,580.07 L413.02,582.85 L414.14,585.63 L415.28,588.41 L416.42,591.18 L417.58,593.95 L418.74,596.72 L419.91,599.48 L421.09,602.25 L422.28,605.00 L423.47,607.76 L424.67,610.51 L425.88,613.26 L427.09,616.01 L428.31,618.75 L429.53,621.49 L430.75,624.23 L431.98,626.97 L433.21,629.70 L434.45,632.43 L435.68,635.16 L436.93,637.89 L438.17,640.61 L439.42,643.34 L440.68,646.06 L441.93,648.78 L443.19,651.49 L444.46,654.21 L445.73,656.92 L447.01,659.63 L448.29,662.34 L449.57,665.05 L450.86,667.76 L452.15,670.46 L453.45,673.17 L454.76,675.87 L456.07,678.57 L457.39,681.26 L458.71,683.95 L460.04,686.64 L461.38,689.33 L462.73,692.01 L464.09,694.69 L465.45,697.36 L466.83,700.02 L468.21,702.69 L469.60,705.34 L471.00,707.99 L472.42,710.64 L473.84,713.28 L475.27,715.91 L476.71,718.54 L478.16,721.16 L479.61,723.78 L481.07,726.40 L482.54,729.01 L484.02,731.62 L485.51,734.22 L487.00,736.82 L488.49,739.42 L489.99,742.01 L491.50,744.60 L493.01,747.19 L494.53,749.77 L496.05,752.36 L497.58,754.94 L499.11,757.52 L500.64,760.10 L502.18,762.67 L503.71,765.24 L505.26,767.82 L506.80,770.39 L508.34,772.96 L509.89,775.53 L511.44,778.10 L512.98,780.66 L514.53,783.23 L516.08,785.80 L517.63,788.36 L519.19,790.93 L520.75,793.49 L522.31,796.04 L523.89,798.59 L525.47,801.14 L527.06,803.67 L528.67,806.20 L530.28,808.72 L531.92,811.23 L533.57,813.73 L535.23,816.22 L536.92,818.69 L538.63,821.15 L540.36,823.60 L542.11,826.03 L543.87,828.45 L545.66,830.86 L547.46,833.25 L549.28,835.64 L551.10,838.02 L552.95,840.39 L554.80,842.75 L556.65,845.11 L558.52,847.46 L560.39,849.81 L562.27,852.15 L564.15,854.50 L566.03,856.84 L567.90,859.18 L569.79,861.52 L571.67,863.86 L573.55,866.19 L575.45,868.52 L577.34,870.84 L579.25,873.16 L581.16,875.46 L583.09,877.76 L585.02,880.05 L586.97,882.32 L588.94,884.59 L590.92,886.83 L592.91,889.07 L594.93,891.28 L596.96,893.48 L599.01,895.66 L601.08,897.83 L603.16,899.99 L605.26,902.13 L607.36,904.26 L609.48,906.39 L611.60,908.50 L613.74,910.61 L615.87,912.72 L618.01,914.82 L620.16,916.92 L622.30,919.02 L624.44,921.12 L626.58,923.23 L628.71,925.34 L630.84,927.45 L632.97,929.56 L635.10,931.68 L637.22,933.79 L639.35,935.90 L641.49,938.01 L643.62,940.11 L645.76,942.20 L647.91,944.28 L650.07,946.36 L652.24,948.42 L654.42,950.47 L656.61,952.51 L658.82,954.53 L661.04,956.53 L663.27,958.51 L665.52,960.48 L667.79,962.43 L670.07,964.36 L672.36,966.28 L674.67,968.18 L677.00,970.06 L679.33,971.93 L681.68,973.78 L684.05,975.61 L686.42,977.43 L688.81,979.24 L691.21,981.03 L693.63,982.80 L696.05,984.56 L698.49,986.30 L700.94,988.04 L703.40,989.76 L705.86,991.47 L708.34,993.17 L710.81,994.87 L713.30,996.55 L715.78,998.24 L718.27,999.92 L720.76,1001.59 L723.26,1003.27 L725.75,1004.95 L728.24,1006.62 L730.72,1008.30 L733.21,1009.99 L735.69,1011.68 L738.16,1013.36 L740.64,1015.06 L743.11,1016.75 L745.59,1018.43 L748.06,1020.12 L750.54,1021.80 L753.03,1023.48 L755.51,1025.15 L758.00,1026.81 L760.50,1028.46 L763.01,1030.11 L765.52,1031.74 L768.04,1033.36 L770.57,1034.96 L773.12,1036.55 L775.67,1038.13 L778.23,1039.69 L780.80,1041.23 L783.39,1042.76 L785.98,1044.27 L788.58,1045.77 L791.19,1047.25 L793.81,1048.71 L796.44,1050.16 L799.08,1051.59 L801.73,1053.00 L804.38,1054.40 L807.05,1055.77 L809.72,1057.13 L812.40,1058.47 L815.09,1059.80 L817.78,1061.10 L820.49,1062.40 L823.20,1063.67 L825.92,1064.94 L828.64,1066.19 L831.37,1067.42 L834.10,1068.65 L836.84,1069.87 L839.59,1071.07 L842.34,1072.27 L845.09,1073.45 L847.84,1074.63 L850.61,1075.80 L853.37,1076.97 L856.14,1078.13 L858.91,1079.28 L861.68,1080.42 L864.46,1081.55 L867.24,1082.67 L870.02,1083.79 L872.81,1084.89 L875.61,1085.98 L878.40,1087.07 L881.21,1088.14 L884.01,1089.20 L886.82,1090.25 L889.63,1091.28 L892.45,1092.31 L895.28,1093.32 L898.10,1094.31 L900.94,1095.30 L903.77,1096.27 L906.61,1097.22 L909.46,1098.16 L912.31,1099.09 L915.16,1100.00 L918.02,1100.90 L920.89,1101.78 L923.76,1102.65 L926.63,1103.50 L929.51,1104.34 L932.39,1105.16 L935.28,1105.96 L938.17,1106.75 L941.07,1107.52 L943.97,1108.28 L946.87,1109.03 L949.78,1109.77 L952.69,1110.49 L955.60,1111.21 L958.52,1111.91 L961.44,1112.61 L964.35,1113.31 L967.28,1113.99 L970.20,1114.67 L973.12,1115.35 L976.04,1116.03 L978.96,1116.70 L981.89,1117.37 L984.81,1118.04 L987.73,1118.71 L990.65,1119.38 L993.58,1120.04 L996.50,1120.70 L999.43,1121.36 L1002.35,1122.01 L1005.28,1122.65 L1008.21,1123.29 L1011.14,1123.93 L1014.07,1124.56 L1017.00,1125.18 L1019.94,1125.79 L1022.87,1126.39 L1025.81,1126.99 L1028.75,1127.58 L1031.69,1128.16 L1034.64,1128.72 L1037.59,1129.28 L1040.54,1129.83 L1043.49,1130.37 L1046.44,1130.89 L1049.39,1131.40 L1052.35,1131.90 L1055.31,1132.39 L1058.27,1132.86 L1061.24,1133.32 L1064.20,1133.77 L1067.17,1134.20 L1070.14,1134.62 L1073.11,1135.02 L1076.08,1135.41 L1079.05,1135.79 L1082.03,1136.16 L1085.00,1136.52 L1087.98,1136.87 L1090.96,1137.21 L1093.94,1137.55 L1096.92,1137.88 L1099.90,1138.21 L1102.88,1138.54 L1105.86,1138.86 L1108.84,1139.19 L1111.82,1139.51 L1114.80,1139.83 L1117.79,1140.16 L1120.77,1140.49 L1123.75,1140.81 L1126.73,1141.14 L1129.71,1141.46 L1132.69,1141.79 L1135.67,1142.11 L1138.65,1142.43 L1141.63,1142.74 L1144.62,1143.05 L1147.60,1143.36 L1150.58,1143.66 L1153.57,1143.96 L1156.55,1144.25 L1159.54,1144.54 L1162.52,1144.82 L1165.51,1145.09 L1168.49,1145.36 L1171.48,1145.61 L1174.47,1145.87 L1177.46,1146.11 L1180.45,1146.35 L1183.44,1146.58 L1186.43,1146.80 L1189.42,1147.01 L1192.41,1147.22 L1195.40,1147.42 L1198.39,1147.61 L1201.38,1147.79 L1204.38,1147.96 L1207.37,1148.12 L1210.37,1148.27 L1213.36,1148.42 L1216.36,1148.56 L1219.35,1148.69 L1222.35,1148.82 L1225.34,1148.94 L1228.34,1149.05 L1231.34,1149.16 L1234.33,1149.26 L1237.33,1149.36 L1240.33,1149.46 L1243.33,1149.55 L1246.32,1149.64 L1249.32,1149.72 L1252.32,1149.80 L1255.32,1149.88 L1258.31,1149.96 L1261.31,1150.04 L1264.31,1150.11 L1267.31,1150.18 L1270.30,1150.25 L1273.30,1150.31 L1276.30,1150.38 L1279.30,1150.44 L1282.29,1150.50 L1285.29,1150.56 L1288.29,1150.62 L1291.29,1150.68 L1294.28,1150.73 L1297.28,1150.79 L1300.28,1150.84 L1303.28,1150.90 L1306.28,1150.95 L1309.27,1151.00 L1312.27,1151.05 L1315.27,1151.10 L1318.27,1151.15 L1321.27,1151.19 L1324.27,1151.24 L1327.26,1151.29 L1330.26,1151.33 L1333.26,1151.38 L1336.26,1151.42 L1339.26,1151.47 L1342.25,1151.51 L1345.25,1151.56 L1348.25,1151.60 L1351.25,1151.65 L1354.25,1151.69 L1357.24,1151.73 L1360.24,1151.77 L1363.24,1151.81 L1366.24,1151.85 L1369.24,1151.88 L1372.24,1151.92 L1375.23,1151.95 L1378.23,1151.99 L1381.23,1152.02 L1384.23,1152.05 L1387.23,1152.07 L1390.23,1152.10 L1393.22,1152.12 L1396.22,1152.15 L1399.22,1152.17 L1402.22,1152.19 L1405.22,1152.21 L1408.22,1152.23 L1411.21,1152.24 L1414.21,1152.26 L1417.21,1152.27 L1420.21,1152.29 L1423.21,1152.30 L1426.21,1152.31 L1429.20,1152.32 L1432.20,1152.33 L1435.20,1152.34 L1438.20,1152.35 L1441.20,1152.36 L1444.20,1152.37 L1447.20,1152.38 L1450.19,1152.38 L1453.19,1152.39 L1456.19,1152.40 L1459.19,1152.40 L1462.19,1152.40 L1465.19,1152.41 L1468.18,1152.41 L1471.18,1152.41 L1474.18,1152.41 L1477.18,1152.42 L1480.18,1152.42 L1483.18,1152.42 L1486.18,1152.42 L1489.17,1152.41 L1492.17,1152.41 L1495.17,1152.41 L1498.17,1152.40 L1501.17,1152.40 L1504.17,1152.39 L1507.16,1152.39 L1510.16,1152.38 L1513.16,1152.37 L1516.16,1152.36 L1519.16,1152.35 L1522.16,1152.34 L1525.16,1152.32 L1528.15,1152.31 L1531.15,1152.29 L1534.15,1152.28 L1537.15,1152.26 L1540.15,1152.24 L1543.15,1152.22 L1546.14,1152.21 L1549.14,1152.18 L1552.14,1152.16 L1555.14,1152.14 L1558.14,1152.12 L1561.14,1152.09 L1564.13,1152.07 L1567.13,1152.04 L1570.13,1152.02 L1573.13,1151.99 L1576.13,1151.96 L1579.13,1151.93 L1582.12,1151.91 L1585.12,1151.88 L1588.12,1151.85 L1591.12,1151.82 L1594.12,1151.79 L1597.12,1151.76 L1600.11,1151.73 L1603.11,1151.70 L1606.11,1151.66 L1609.11,1151.63 L1612.11,1151.60 L1615.11,1151.57 L1618.10,1151.54 L1621.10,1151.51 L1624.10,1151.48 L1627.10,1151.45 L1630.10,1151.41 L1633.10,1151.38 L1636.09,1151.35 L1639.09,1151.32 L1642.09,1151.29 L1645.09,1151.25 L1648.09,1151.22 L1651.08,1151.19 L1654.08,1151.16 L1657.08,1151.12 L1660.08,1151.09 L1663.08,1151.06 L1666.08,1151.02 L1669.07,1150.99 L1672.07,1150.95 L1675.07,1150.92 L1678.07,1150.89 L1681.07,1150.85 L1684.07,1150.81 L1687.06,1150.78 L1690.06,1150.74 L1693.06,1150.71 L1696.06,1150.67 L1699.06,1150.63 L1702.06,1150.59 L1705.05,1150.56 L1708.05,1150.52 L1711.05,1150.48 L1714.05,1150.44 L1717.05,1150.40 L1720.04,1150.36 L1723.04,1150.32 L1726.04,1150.28 L1729.04,1150.24 L1732.04,1150.20 L1735.04,1150.15 L1738.03,1150.11 L1741.03,1150.07 L1744.03,1150.03 L1747.03,1149.99 L1750.03,1149.94 L1753.02,1149.90 L1756.02,1149.86 L1759.02,1149.81 L1762.02,1149.77 L1765.02,1149.72 L1768.01,1149.68 L1771.01,1149.63 L1774.01,1149.58 L1777.01,1149.53 L1780.01,1149.48 L1783.01,1149.42 L1786.00,1149.37 L1789.00,1149.31" stroke="#74b187" stroke-width="7.2" stroke-dashoffset="0"/>
</g>
<g stroke="#000" stroke-width="4.6" fill="none" stroke-linecap="butt">
<rect x="298.50" y="8.00" width="1475.00" height="1180.00" stroke-linejoin="miter"/>
<path d="M372.25,1188.00 V1173.00 M372.25,8.00 V23.00"/>
<path d="M446.00,1188.00 V1173.00 M446.00,8.00 V23.00"/>
<path d="M519.75,1188.00 V1173.00 M519.75,8.00 V23.00"/>
<path d="M593.50,1188.00 V1173.00 M593.50,8.00 V23.00"/>
<path d="M667.25,1188.00 V1129.00 M667.25,8.00 V67.00"/>
<path d="M741.00,1188.00 V1173.00 M741.00,8.00 V23.00"/>
<path d="M814.75,1188.00 V1173.00 M814.75,8.00 V23.00"/>
<path d="M888.50,1188.00 V1173.00 M888.50,8.00 V23.00"/>
<path d="M962.25,1188.00 V1173.00 M962.25,8.00 V23.00"/>
<path d="M1036.00,1188.00 V1129.00 M1036.00,8.00 V67.00"/>
<path d="M1109.75,1188.00 V1173.00 M1109.75,8.00 V23.00"/>
<path d="M1183.50,1188.00 V1173.00 M1183.50,8.00 V23.00"/>
<path d="M1257.25,1188.00 V1173.00 M1257.25,8.00 V23.00"/>
<path d="M1331.00,1188.00 V1173.00 M1331.00,8.00 V23.00"/>
<path d="M1404.75,1188.00 V1129.00 M1404.75,8.00 V67.00"/>
<path d="M1478.50,1188.00 V1173.00 M1478.50,8.00 V23.00"/>
<path d="M1552.25,1188.00 V1173.00 M1552.25,8.00 V23.00"/>
<path d="M1626.00,1188.00 V1173.00 M1626.00,8.00 V23.00"/>
<path d="M1699.75,1188.00 V1173.00 M1699.75,8.00 V23.00"/>
<path d="M298.50,1143.60 H357.50 M1773.50,1143.60 H1714.50"/>
<path d="M298.50,1006.04 H313.50 M1773.50,1006.04 H1758.50"/>
<path d="M298.50,925.58 H313.50 M1773.50,925.58 H1758.50"/>
<path d="M298.50,868.49 H313.50 M1773.50,868.49 H1758.50"/>
<path d="M298.50,824.21 H313.50 M1773.50,824.21 H1758.50"/>
<path d="M298.50,788.02 H313.50 M1773.50,788.02 H1758.50"/>
<path d="M298.50,757.43 H313.50 M1773.50,757.43 H1758.50"/>
<path d="M298.50,730.93 H313.50 M1773.50,730.93 H1758.50"/>
<path d="M298.50,707.56 H313.50 M1773.50,707.56 H1758.50"/>
<path d="M298.50,686.65 H357.50 M1773.50,686.65 H1714.50"/>
<path d="M298.50,549.09 H313.50 M1773.50,549.09 H1758.50"/>
<path d="M298.50,468.63 H313.50 M1773.50,468.63 H1758.50"/>
<path d="M298.50,411.54 H313.50 M1773.50,411.54 H1758.50"/>
<path d="M298.50,367.26 H313.50 M1773.50,367.26 H1758.50"/>
<path d="M298.50,331.07 H313.50 M1773.50,331.07 H1758.50"/>
<path d="M298.50,300.48 H313.50 M1773.50,300.48 H1758.50"/>
<path d="M298.50,273.98 H313.50 M1773.50,273.98 H1758.50"/>
<path d="M298.50,250.61 H313.50 M1773.50,250.61 H1758.50"/>
<path d="M298.50,229.70 H357.50 M1773.50,229.70 H1714.50"/>
<path d="M298.50,92.14 H313.50 M1773.50,92.14 H1758.50"/>
<path d="M298.50,11.68 H313.50 M1773.50,11.68 H1758.50"/>
</g>
<g font-family="'Liberation Serif', serif" fill="#000">
<text x="299.00" y="1294" font-size="103" text-anchor="middle">0.00</text>
<text x="667.75" y="1294" font-size="103" text-anchor="middle">0.05</text>
<text x="1036.50" y="1294" font-size="103" text-anchor="middle">0.10</text>
<text x="1405.25" y="1294" font-size="103" text-anchor="middle">0.15</text>
<text x="1774.00" y="1294" font-size="103" text-anchor="middle">0.20</text>
<text transform="translate(168,1179.80) scale(0.8,1)" x="-27.45" y="0" font-size="104">1</text>
<text x="193.2" y="1179.80" font-size="104">0</text>
<text x="243.50" y="1143.30" font-size="73">0</text>
<text transform="translate(168,722.85) scale(0.8,1)" x="-27.45" y="0" font-size="104">1</text>
<text x="193.2" y="722.85" font-size="104">0</text>
<text transform="translate(261.8,686.35) scale(0.76,1)" x="-19.26" y="0" font-size="73">1</text>
<text transform="translate(168,265.90) scale(0.8,1)" x="-27.45" y="0" font-size="104">1</text>
<text x="193.2" y="265.90" font-size="104">0</text>
<text x="242.30" y="229.40" font-size="73">2</text>
</g>
<text font-family="'Liberation Serif', serif" font-size="118.5" x="796.7" y="1444.8">k (GeV/c)</text>
<text font-family="'Liberation Serif', serif" font-size="117" transform="translate(88.7,706.3) rotate(-90)">C(k)</text>
<text font-family="'Liberation Sans', sans-serif" font-size="84.4" x="1036.4" y="151.1">pp corrleation</text>
<text font-family="'Liberation Sans', sans-serif" font-size="85.8" x="1035.4" y="741.6">R = 1.0 fm</text>
<text font-family="'Liberation Sans', sans-serif" font-size="89" font-style="italic" transform="translate(1260.3,263.80) scale(0.906,1)">C</text>
<text font-family="'Liberation Sans', sans-serif" font-size="60" x="1319.5" y="278.60">Singlet</text>
<text font-family="'Liberation Sans', sans-serif" font-size="89" font-style="italic" transform="translate(1260.3,357.90) scale(0.906,1)">C</text>
<text font-family="'Liberation Sans', sans-serif" font-size="60" x="1319.5" y="372.70">Triplet</text>
<text font-family="'Liberation Sans', sans-serif" font-size="89" font-style="italic" transform="translate(1260.3,453.60) scale(0.906,1)">C</text>
<text font-family="'Liberation Sans', sans-serif" font-size="60" x="1319.5" y="468.40">averaged</text>
<text font-family="'Liberation Sans', sans-serif" font-size="89" font-style="italic" transform="translate(1260.3,550.60) scale(0.906,1)">C</text>
<text font-family="'Liberation Sans', sans-serif" font-size="60" x="1319.5" y="565.40">non−relativistic</text>
<g fill="none">
<path d="M1068.9,230 H1212.4" stroke="#ff0000" stroke-width="7.6" stroke-dasharray="16.2 5"/>
<path d="M1068.9,331 H1224.4" stroke="#0000ff" stroke-width="8.2" stroke-dasharray="59 47"/>
<path d="M1067.1,432.3 H1226.3" stroke="#000" stroke-width="12"/>
<path d="M1069,530.1 H1224.6" stroke="#74b187" stroke-width="7.2"/>
</g>
</svg></body></html>
